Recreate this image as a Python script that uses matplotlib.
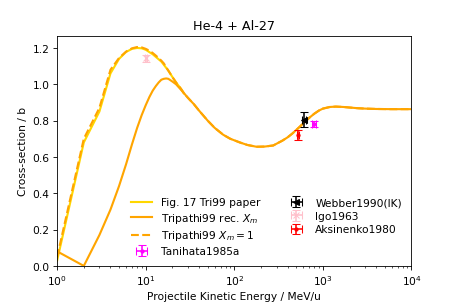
import matplotlib
matplotlib.use("Agg")
import matplotlib.pyplot as plt

# Tripathi99 with recommended X_m
e_rec = [1, 2, 3, 4, 5, 6, 7, 8, 9, 10, 11, 12, 13, 14, 15, 16, 17, 18, 20, 22, 25,
         30, 35, 40, 50, 60, 75, 90, 115, 140, 178, 220, 275, 350, 400, 450, 500,
         550, 600, 700, 800, 900, 1000, 1200, 1400, 1700, 2000, 2500, 3000, 4000,
         6000, 10000]
xs_rec = [0.08, 0.0, 0.17, 0.31, 0.44, 0.56, 0.67, 0.76, 0.83, 0.885, 0.93, 0.965,
          0.99, 1.01, 1.025, 1.03, 1.032, 1.03, 1.015, 1.0, 0.97, 0.925, 0.89, 0.855,
          0.80, 0.76, 0.722, 0.70, 0.68, 0.666, 0.656, 0.657, 0.663, 0.69, 0.708,
          0.728, 0.748, 0.767, 0.785, 0.815, 0.838, 0.855, 0.866, 0.875, 0.877,
          0.875, 0.872, 0.868, 0.866, 0.864, 0.863, 0.863]

# Tripathi99 with X_m = 1
e_x1 = [1, 2, 3, 4, 5, 6, 7, 8, 9, 10, 11, 12, 13, 14, 15, 16, 18, 20, 22, 25, 27,
        30, 35, 40, 50, 60, 75, 90, 115, 140, 178, 220, 275, 350, 400, 450, 500,
        550, 600, 700, 800, 900, 1000, 1200, 1400, 1700, 2000, 2500, 3000, 4000,
        6000, 10000]
xs_x1 = [0.05, 0.70, 0.87, 1.08, 1.145, 1.18, 1.198, 1.205, 1.203, 1.195, 1.185,
         1.172, 1.158, 1.144, 1.13, 1.115, 1.075, 1.04, 1.01, 0.975, 0.95, 0.925,
         0.89, 0.855, 0.80, 0.76, 0.722, 0.70, 0.68, 0.666, 0.656, 0.657, 0.663,
         0.69, 0.708, 0.728, 0.748, 0.767, 0.785, 0.815, 0.838, 0.855, 0.866, 0.875,
         0.877, 0.875, 0.872, 0.868, 0.866, 0.864, 0.863, 0.863]

# Fig. 17 of the Tri99 paper
e_fig = [1, 2, 3, 4, 5, 6, 7, 8, 9, 10, 12, 15, 18, 20, 22, 25, 27]
xs_fig = [0.03, 0.68, 0.85, 1.06, 1.14, 1.178, 1.195, 1.20, 1.198, 1.19, 1.165,
          1.125, 1.075, 1.04, 1.01, 0.975, 0.95]

# measurements: energy, xerr, sigma, yerr
webber = ([610], [30], [0.805], [0.04])
igo = ([10], [0.3], [1.143], [0.018])
aksinenko = ([520], [15], [0.72], [0.028])
tanihata = ([790], [40], [0.781], [0.015])

plt.figure(figsize=(6, 4), dpi=76.2)
plt.plot(e_fig, xs_fig, color='gold', lw=2, label='Fig. 17 Tri99 paper')
plt.plot(e_rec, xs_rec, color='orange', lw=2, label='Tripathi99 rec. $X_m$')
plt.plot(e_x1, xs_x1, color='orange', lw=2, ls='--', label='Tripathi99 $X_m = 1$')
plt.errorbar(tanihata[0], tanihata[2], xerr=tanihata[1], yerr=tanihata[3], fmt='.',
             color='magenta', capsize=4, label='Tanihata1985a')
plt.errorbar(webber[0], webber[2], xerr=webber[1], yerr=webber[3], fmt='<',
             color='black', capsize=4, label='Webber1990(IK)')
plt.errorbar(igo[0], igo[2], xerr=igo[1], yerr=igo[3], fmt='x',
             color='pink', capsize=4, label='Igo1963')
plt.errorbar(aksinenko[0], aksinenko[2], xerr=aksinenko[1], yerr=aksinenko[3], fmt='.',
             color='red', capsize=4, label='Aksinenko1980')

plt.xscale('log')
plt.xlim(1, 1e4)
plt.ylim(0, 1.267)
plt.title('He-4 + Al-27')
plt.xlabel('Projectile Kinetic Energy / MeV/u')
plt.ylabel('Cross-section / b')
plt.legend(ncol=2, loc='lower right', frameon=False, labelspacing=0.35,
           columnspacing=2.4)
plt.subplots_adjust(left=0.125, right=0.9, bottom=0.125, top=0.88)
plt.savefig('out.png', dpi=76.2)
